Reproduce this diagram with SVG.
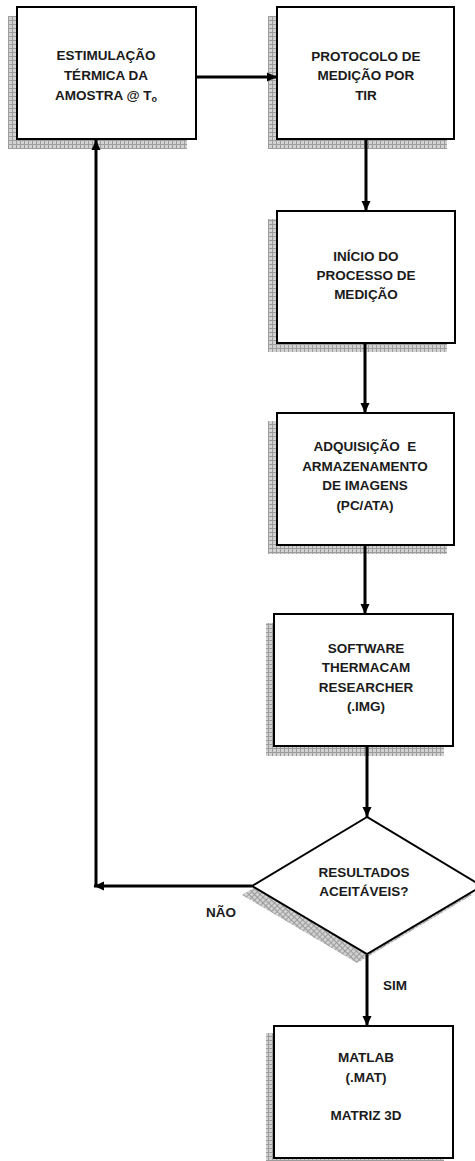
<svg xmlns="http://www.w3.org/2000/svg" width="475" height="1161" viewBox="0 0 475 1161">
<style>
.box{fill:#fff;stroke:#000;stroke-width:2}
.sh{fill:url(#grid)}
.shd{fill:url(#gridd)}
.t{font-family:"Liberation Sans",Arial,sans-serif;font-weight:bold;font-size:13.5px;fill:#1a1a1a;text-anchor:middle;white-space:pre}
.c{fill:none;stroke:#000;stroke-width:3}
</style>
<defs>
<pattern id="grid" width="4" height="4" patternUnits="userSpaceOnUse">
<rect width="4" height="4" fill="#d2d2d2"/>
<path d="M0 0.5H4M0.5 0V4" stroke="#9c9c9c" stroke-width="1"/>
</pattern>
<pattern id="gridd" width="4" height="4" patternUnits="userSpaceOnUse" patternTransform="rotate(45)">
<rect width="4" height="4" fill="#d2d2d2"/>
<path d="M0 0.5H4M0.5 0V4" stroke="#9c9c9c" stroke-width="1"/>
</pattern>
<marker id="ah" viewBox="0 0 10 10" refX="10" refY="5" markerWidth="10" markerHeight="10" markerUnits="userSpaceOnUse" orient="auto">
<path d="M0 0.5L10 5L0 9.5z" fill="#000"/>
</marker>
</defs>

<g id="n1">
<rect class="sh" x="8" y="16" width="179" height="133"/>
<rect class="box" x="17" y="7" width="179" height="132"/>
<text class="t" x="106" y="60">ESTIMULAÇÃO</text>
<text class="t" x="106" y="80">TÉRMICA DA</text>
<text class="t" x="106" y="100">AMOSTRA @ T<tspan font-size="9" dy="2">o</tspan></text>
</g>

<g id="n2">
<rect class="sh" x="268" y="16" width="179" height="133"/>
<rect class="box" x="277" y="7" width="177" height="132"/>
<text class="t" x="366" y="61">PROTOCOLO DE</text>
<text class="t" x="366" y="80">MEDIÇÃO POR</text>
<text class="t" x="366" y="100">TIR</text>
</g>

<g id="n3">
<rect class="sh" x="268" y="219" width="179" height="133"/>
<rect class="box" x="277" y="211" width="178" height="132"/>
<text class="t" x="366" y="261">INÍCIO DO</text>
<text class="t" x="366" y="280">PROCESSO DE</text>
<text class="t" x="366" y="299">MEDIÇÃO</text>
</g>

<g id="n4">
<rect class="sh" x="268" y="421" width="179" height="133"/>
<rect class="box" x="277" y="413" width="177" height="132"/>
<text class="t" x="365" y="451">ADQUISIÇÃO  E</text>
<text class="t" x="365" y="471">ARMAZENAMENTO</text>
<text class="t" x="365" y="490">DE IMAGENS</text>
<text class="t" x="365" y="510">(PC/ATA)</text>
</g>

<g id="n5">
<rect class="sh" x="266" y="623" width="178" height="133"/>
<rect class="box" x="274" y="614" width="179" height="132"/>
<text class="t" x="366" y="653">SOFTWARE</text>
<text class="t" x="366" y="672">THERMACAM</text>
<text class="t" x="366" y="692">RESEARCHER</text>
<text class="t" x="366" y="711">(.IMG)</text>
</g>

<g id="n6">
<polygon class="shd" points="357,826 242,895 357,963 472,895"/>
<polygon class="box" points="367,817 252,886 367,954 482,886"/>
<text class="t" x="364" y="877">RESULTADOS</text>
<text class="t" x="364" y="896">ACEITÁVEIS?</text>
</g>

<g id="n7">
<rect class="sh" x="266" y="1033" width="178" height="134"/>
<rect class="box" x="274" y="1026" width="179" height="132"/>
<text class="t" x="366" y="1062">MATLAB</text>
<text class="t" x="366" y="1082">(.MAT)</text>
<text class="t" x="366" y="1120">MATRIZ 3D</text>
</g>

<g id="connectors">
<line class="c" x1="197" y1="77" x2="277" y2="77" marker-end="url(#ah)"/>
<line class="c" x1="366" y1="140" x2="366" y2="211" marker-end="url(#ah)"/>
<line class="c" x1="365" y1="344" x2="365" y2="413" marker-end="url(#ah)"/>
<line class="c" x1="365" y1="546" x2="365" y2="614" marker-end="url(#ah)"/>
<line class="c" x1="367" y1="747" x2="367" y2="817" marker-end="url(#ah)"/>
<line class="c" x1="252" y1="886" x2="94" y2="886" marker-end="url(#ah)"/>
<line class="c" x1="96" y1="886" x2="96" y2="140" marker-end="url(#ah)"/>
<line class="c" x1="367" y1="955" x2="367" y2="1026" marker-end="url(#ah)"/>
<text class="t" x="221" y="917">NÃO</text>
<text class="t" x="395" y="990">SIM</text>
</g>
</svg>
